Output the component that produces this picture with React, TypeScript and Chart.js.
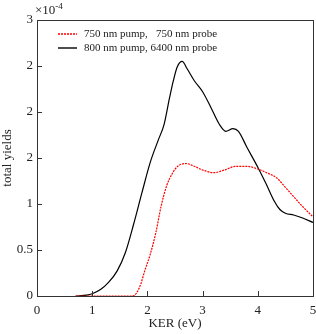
import React, { useEffect, useRef } from "react";
import { Chart, registerables } from "chart.js";

Chart.register(...registerables);

const blackX = [0.7, 0.9, 1.0, 1.15, 1.3, 1.45, 1.6, 1.75, 1.9, 2.05, 2.2, 2.3, 2.4, 2.47, 2.54, 2.63, 2.72, 2.85, 3.0, 3.15, 3.3, 3.42, 3.55, 3.65, 3.8, 4.0, 4.15, 4.3, 4.4, 4.5, 4.65, 4.8, 5.0];
const blackY = [0, 0.01, 0.025, 0.07, 0.15, 0.27, 0.47, 0.78, 1.12, 1.45, 1.7, 1.86, 2.15, 2.34, 2.49, 2.55, 2.47, 2.34, 2.22, 2.05, 1.87, 1.79, 1.82, 1.79, 1.62, 1.4, 1.22, 1.03, 0.94, 0.9, 0.88, 0.85, 0.8];
const redX = [0.7, 1.0, 1.5, 1.72, 1.8, 1.88, 1.95, 2.05, 2.15, 2.25, 2.35, 2.45, 2.55, 2.7, 2.85, 3.0, 3.2, 3.4, 3.6, 3.8, 4.0, 4.2, 4.35, 4.5, 4.65, 4.8, 5.0];
const redY = [0, 0, 0, 0.0, 0.03, 0.13, 0.27, 0.45, 0.68, 0.98, 1.2, 1.33, 1.41, 1.44, 1.41, 1.37, 1.34, 1.37, 1.41, 1.41, 1.38, 1.33, 1.28, 1.18, 1.08, 0.98, 0.86];

const seriesLabels = ["750 nm pump,   750 nm probe", "800 nm pump, 6400 nm probe"];
const yTickValues = [0, 0.5, 1, 1.5, 2, 2.5, 3];
const yTickLabels = ["0", "0.5", "1", "2", "2", "2", "3"];
const xTickValues = [0, 1, 2, 3, 4, 5];
const xTickLabels = ["0", "1", "2", "3", "4", "5"];

const FONT = "'Liberation Serif', 'Times New Roman', serif";

const framePlugin = {
  id: "frame",
  afterDraw(chart: any) {
    const { ctx, chartArea } = chart;
    const { left, right, top, bottom } = chartArea;
    const xs = chart.scales.x;
    const ys = chart.scales.y;
    ctx.save();
    ctx.strokeStyle = "#333";
    ctx.lineWidth = 1;
    ctx.strokeRect(left + 0.5, top + 0.5, right - left, bottom - top);
    ctx.beginPath();
    ctx.lineWidth = 1;
    for (const v of xTickValues) {
      const px = Math.round(xs.getPixelForValue(v)) + 0.5;
      ctx.moveTo(px, bottom);
      ctx.lineTo(px, bottom - 5);
    }
    for (const v of yTickValues) {
      const py = Math.round(ys.getPixelForValue(v)) + 0.5;
      ctx.moveTo(left, py);
      ctx.lineTo(left + 5, py);
    }
    ctx.stroke();
    // exponent
    ctx.fillStyle = "#222";
    ctx.textBaseline = "alphabetic";
    ctx.textAlign = "left";
    ctx.font = `13px ${FONT}`;
    ctx.fillText("×10", left - 2, top - 6);
    const w = ctx.measureText("×10").width;
    ctx.font = `9px ${FONT}`;
    ctx.fillText("-4", left - 2 + w, top - 11);
    // legend
    const items = [
      { color: "#ff0000", dash: [2, 1], label: seriesLabels[0] },
      { color: "#000000", dash: [], label: seriesLabels[1] },
    ];
    ctx.font = `11px ${FONT}`;
    ctx.textBaseline = "middle";
    items.forEach((it, i) => {
      const y = Math.round(top + 14 + i * 13.5);
      ctx.beginPath();
      ctx.setLineDash(it.dash);
      ctx.strokeStyle = it.color;
      ctx.lineWidth = 1.4;
      ctx.moveTo(left + 21, y);
      ctx.lineTo(left + 40, y);
      ctx.stroke();
      ctx.setLineDash([]);
      ctx.fillStyle = "#222";
      ctx.fillText(it.label, left + 47, y);
    });
    ctx.restore();
  },
};

export default function App() {
  const ref = useRef<HTMLCanvasElement | null>(null);
  useEffect(() => {
    document.body.style.margin = "0";
    const canvas = ref.current!;
    const chart = new Chart(canvas, {
      type: "line",
      data: {
        datasets: [
          {
            label: seriesLabels[0],
            data: redX.map((x, i) => ({ x, y: redY[i] })),
            borderColor: "#ff0000",
            borderWidth: 1.2,
            borderDash: [2, 1],
            pointRadius: 0,
            cubicInterpolationMode: "monotone",
            fill: false,
          },
          {
            label: seriesLabels[1],
            data: blackX.map((x, i) => ({ x, y: blackY[i] })),
            borderColor: "#000000",
            borderWidth: 1.2,
            pointRadius: 0,
            cubicInterpolationMode: "monotone",
            fill: false,
          },
        ],
      },
      options: {
        animation: false,
        responsive: false,
        layout: { padding: { top: 20, right: 3, left: 0, bottom: 0 } },
        plugins: { legend: { display: false }, tooltip: { enabled: false } },
        scales: {
          x: {
            type: "linear",
            min: 0,
            max: 5,
            afterBuildTicks: (s: any) => {
              s.ticks = xTickValues.map((v) => ({ value: v }));
            },
            ticks: {
              callback: (_v: any, i: number) => xTickLabels[i],
              color: "#222",
              font: { family: FONT, size: 13 },
              padding: 7,
              maxRotation: 0,
            },
            grid: { display: false, drawTicks: false },
            border: { display: false },
            title: {
              display: true,
              text: "KER (eV)",
              color: "#222",
              font: { family: FONT, size: 13 },
              padding: { top: 0, bottom: 3 },
            },
            afterFit: (s: any) => {
              s.height = 38;
              s.paddingLeft = 0;
              s.paddingRight = 0;
            },
          },
          y: {
            type: "linear",
            min: 0,
            max: 3,
            afterBuildTicks: (s: any) => {
              s.ticks = yTickValues.map((v) => ({ value: v }));
            },
            ticks: {
              callback: (_v: any, i: number) => yTickLabels[i],
              color: "#222",
              font: { family: FONT, size: 13 },
              padding: 4,
            },
            grid: { display: false, drawTicks: false },
            border: { display: false },
            title: {
              display: true,
              text: "total yields",
              color: "#222",
              font: { family: FONT, size: 13 },
              padding: { top: 0, bottom: 0 },
            },
            afterFit: (s: any) => {
              s.width = 37;
              s.paddingTop = 0;
              s.paddingBottom = 0;
            },
          },
        },
      },
      plugins: [framePlugin],
    } as any);
    return () => chart.destroy();
  }, []);
  return (
    <div style={{ width: 316, height: 334 }}>
      <canvas ref={ref} width={316} height={334} style={{ display: "block" }} />
    </div>
  );
}
